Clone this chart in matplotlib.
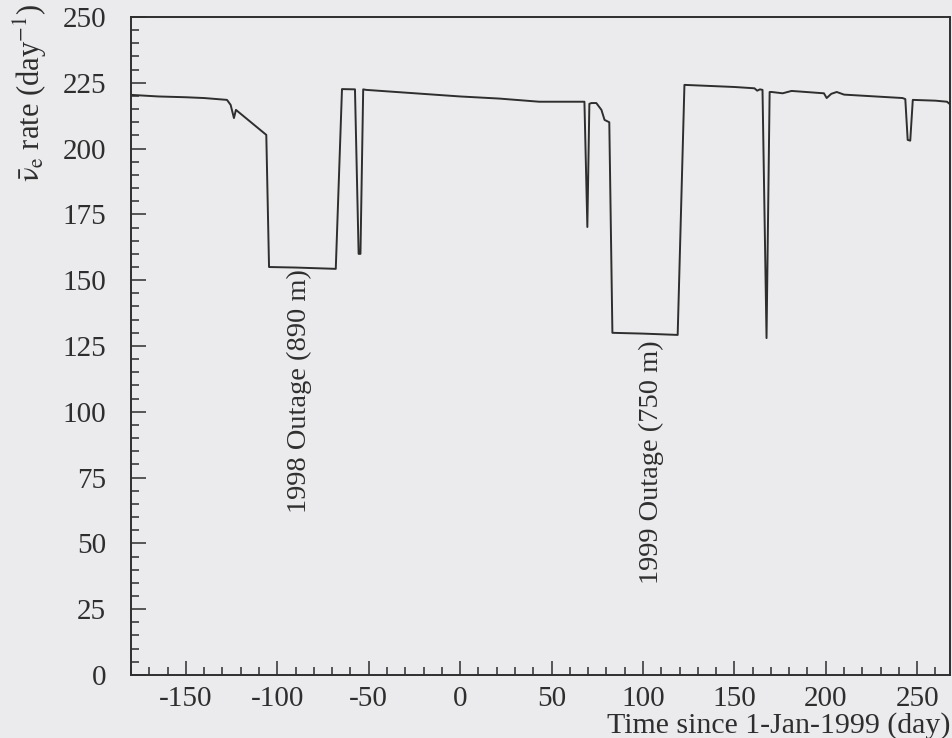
import matplotlib
matplotlib.use("Agg")
import matplotlib.pyplot as plt
from matplotlib.ticker import MultipleLocator

plt.rcParams["font.family"] = ["Liberation Serif", "DejaVu Serif"]
plt.rcParams["mathtext.fontset"] = "stix"
plt.rcParams["axes.unicode_minus"] = False

# reactor antineutrino rate vs time (days since 1-Jan-1999)
days = [-180, -165, -150, -140, -127.5, -125.5, -123.7, -122.6, -106, -104.5,
        -90, -68, -64.6, -57.5, -55.5, -54.5, -53, -51.4, 0, 21.4, 43.3, 68,
        69.6, 70.7, 71.8, 74.5, 77.3, 79, 81.6, 83.3, 100, 119, 122.7, 150,
        161, 162.5, 164, 165.4, 167.6, 169.3, 170.4, 176.4, 181.3, 199, 200.5,
        203, 206, 210, 242, 243.5, 244.8, 246.2, 247.6, 260, 266.3, 268]
rate = [220.4, 219.8, 219.5, 219.2, 218.5, 216.6, 211.6, 214.7, 205.2, 155.0,
        154.8, 154.3, 222.6, 222.5, 160.0, 160.0, 222.5, 222.3, 219.8, 219.0, 217.8, 217.8,
        170.2, 217.0, 217.3, 217.3, 214.7, 210.9, 210.0, 130.0, 129.7, 129.2, 224.2, 223.4,
        222.9, 222.0, 222.5, 222.3, 128.0, 221.5, 221.5, 221.0, 221.9, 221.0, 219.2,
        220.8, 221.5, 220.5, 219.2, 218.8, 203.3, 203.0, 218.5, 218.2, 217.8, 216.8]

outage_labels = ["1998 Outage (890 m)", "1999 Outage (750 m)"]
outage_pos = [(-88, 108), (104.6, 81)]

bg = "#ebeaec"
ink = "#2e2e2e"

fig = plt.figure(figsize=(9.52, 7.38), dpi=100, facecolor=bg)
ax = fig.add_axes([0.1376, 0.0854, 0.8604, 0.8916], facecolor=bg)

ax.plot(days, rate, color=ink, lw=1.4)

ax.set_xlim(-180, 268)
ax.set_ylim(0, 250)
ax.xaxis.set_major_locator(MultipleLocator(50))
ax.xaxis.set_minor_locator(MultipleLocator(10))
ax.yaxis.set_major_locator(MultipleLocator(25))
ax.yaxis.set_minor_locator(MultipleLocator(5))
ax.tick_params(which="both", direction="in", top=False, right=False,
               colors=ink, labelsize=21, width=1.1)
ax.tick_params(which="major", length=11)
ax.tick_params(which="minor", length=5.5)
ax.tick_params(axis="x", which="major", pad=8, length=10)
ax.tick_params(axis="y", which="major", pad=18)
for s in ax.spines.values():
    s.set_color(ink)
    s.set_linewidth(1.4)

for txt, (x, y) in zip(outage_labels, outage_pos):
    ax.text(x, y, txt, rotation=90, ha="center", va="center",
            fontsize=20.5, color=ink)

ax.set_xlabel("Time since 1-Jan-1999 (day)", fontsize=21.5, color=ink,
              ha="right", va="baseline")
ax.xaxis.set_label_coords(1.0, -0.087)
ax.set_ylabel(r"$\bar{\mathrm{\nu}}_{\mathrm{e}}$ rate (day$^{\mathrm{-1}}$)",
              fontsize=22, color=ink, ha="right")
ax.yaxis.set_label_coords(-0.1, 1.02)

fig.savefig("out.png", dpi=100, facecolor=bg)
